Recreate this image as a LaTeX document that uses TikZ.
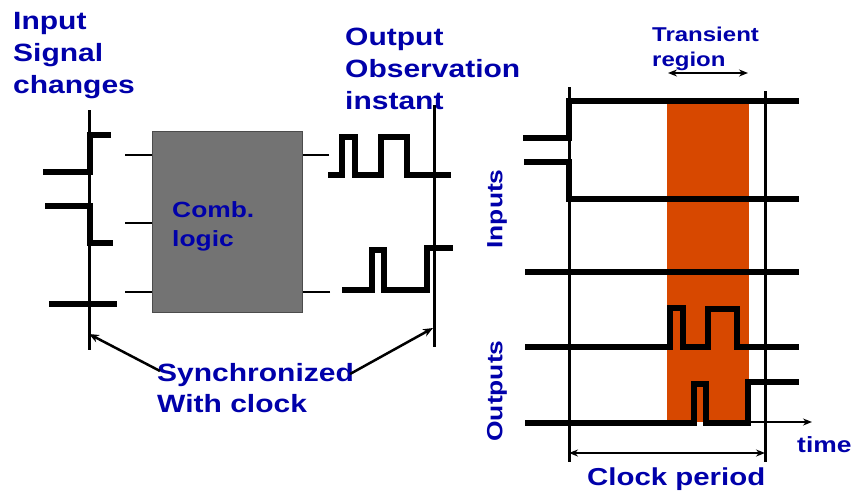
\documentclass[tikz,border=0pt]{standalone}
\usepackage{fontspec}
\newfontfamily\lab{Liberation Sans Bold}[FakeStretch=1.2]
\usetikzlibrary{arrows.meta}
\definecolor{lblue}{RGB}{0,0,170}
\definecolor{tregion}{RGB}{215,72,0}
\definecolor{boxgray}{RGB}{115,115,115}
\begin{document}
\begin{tikzpicture}[x=1pt,y=-1pt,
  lbl/.style={text=lblue, font=\lab\fontsize{25}{32}\selectfont, inner sep=0, align=left, anchor=north west},
  sig/.style={line width=5.5pt, line cap=butt, line join=miter},
  thinl/.style={line width=3pt},
  stub/.style={line width=2.5pt},
  arr/.style={line width=2.5pt, -{Stealth[length=10pt,width=8pt]}},
  darr/.style={line width=2pt, {Stealth[length=9pt,width=7pt]}-{Stealth[length=9pt,width=7pt]}},
]
\useasboundingbox (0,0) rectangle (858,490);

% ---------- left part ----------
\node[lbl] (inlab) at (13,12) {Input\\Signal\\changes};
\node[lbl] (outlab) at (345,28) {Output\\Observation\\instant};

\draw[thinl] (89,110) -- (89,350);
\draw[sig] (43,172) -- (90,172) -- (90,135) -- (111,135);
\draw[sig] (45,206) -- (90,206) -- (90,243) -- (113,243);
\draw[sig] (49,304) -- (117,304);

\node[draw=black!70, line width=1pt, fill=boxgray, minimum width=150pt, minimum height=181pt, inner sep=0] (box) at (227,221.5) {};
\node[lbl, font=\lab\fontsize{22}{29}\selectfont] (comb) at (172,201) {Comb.\\logic};

\coordinate (i1) at (125,155);
\coordinate (i2) at (125,223);
\coordinate (i3) at (125,292);
\coordinate (o1) at (329,155);
\coordinate (o2) at (330,292);
\draw[stub] (i1) -- (i1 -| box.west);
\draw[stub] (i2) -- (i2 -| box.west);
\draw[stub] (i3) -- (i3 -| box.west);
\draw[stub] (o1) -- (o1 -| box.east);
\draw[stub] (o2) -- (o2 -| box.east);

\draw[thinl] (434,105) -- (434,347);
\draw[sig] (328,175) -- (342,175) -- (342,137) -- (355,137) -- (355,175) -- (381,175) -- (381,137) -- (407,137) -- (407,175) -- (451,175);
\draw[sig] (342,290) -- (372,290) -- (372,250) -- (384,250) -- (384,290) -- (427,290) -- (427,248) -- (453,248);

\node[lbl, font=\lab\fontsize{25}{31}\selectfont] (sync) at (157,363) {Synchronized\\With clock};
\coordinate (a1s) at (160,371);
\coordinate (a1e) at (89,334);
\coordinate (a2s) at (350,374);
\coordinate (a2e) at (433,328);
\draw[arr] (a1s) -- (a1e);
\draw[arr] (a2s) -- (a2e);

% ---------- right part ----------
\fill[tregion] (667,103) rectangle (749,422);
\node[lbl, font=\lab\fontsize{20}{25}\selectfont] (trans) at (652,27) {Transient\\region};
\coordinate (t1) at (668,73);
\coordinate (t2) at (748,73);
\draw[darr] (t1) -- (t2);

\draw[thinl] (569,87) -- (569,462);
\draw[thinl] (765,91) -- (765,462);

\draw[sig] (523,138) -- (569,138) -- (569,101) -- (799,101);
\draw[sig] (524,162) -- (569,162) -- (569,199) -- (799,199);
\draw[sig] (525,272) -- (799,272);
\draw[sig] (525,347) -- (670,347) -- (670,308) -- (683,308) -- (683,347) -- (708,347) -- (708,309) -- (737,309) -- (737,347) -- (799,347);
\coordinate (tax) at (748,422);
\coordinate (taxe) at (812,422);
\draw[line width=2pt, -{Stealth[length=9pt,width=7pt]}] (tax) -- (taxe);
\draw[sig] (525,423) -- (694,423) -- (694,384) -- (706,384) -- (706,423) -- (748,423) -- (748,382) -- (799,382);

\node[text=lblue, font=\lab\fontsize{22}{26}\selectfont, rotate=90, inner sep=0] (inputs) at (497,209) {Inputs};
\node[text=lblue, font=\lab\fontsize{22}{26}\selectfont, rotate=90, inner sep=0] (outputs) at (497,391) {Outputs};
\node[text=lblue, font=\lab\fontsize{22}{26}\selectfont, inner sep=0, anchor=base west] (time) at (797,452) {time};

\coordinate (c1) at (569,453);
\coordinate (c2) at (765,453);
\draw[darr] (c1) -- (c2);
\node[text=lblue, font=\lab\fontsize{24.5}{28}\selectfont, inner sep=0, anchor=base west] (clk) at (587,485) {Clock period};
\end{tikzpicture}
\end{document}
